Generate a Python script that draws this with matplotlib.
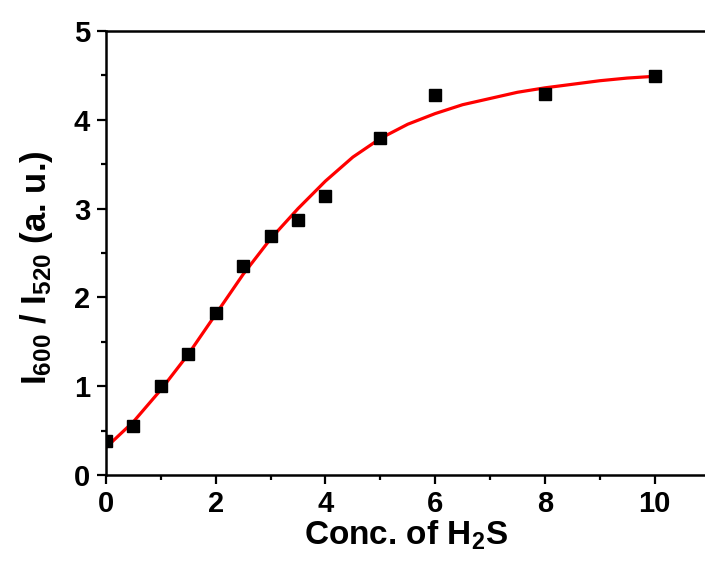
import matplotlib
matplotlib.use("Agg")
import matplotlib.pyplot as plt
from matplotlib.ticker import MultipleLocator

plt.rcParams['font.family'] = ['Liberation Sans', 'DejaVu Sans']
plt.rcParams['font.weight'] = 'bold'
plt.rcParams['mathtext.fontset'] = 'custom'
plt.rcParams['mathtext.rm'] = 'Liberation Sans:bold'
plt.rcParams['mathtext.bf'] = 'Liberation Sans:bold'
plt.rcParams['mathtext.default'] = 'bf'

# measured ratio vs. H2S concentration
conc = [0, 0.5, 1, 1.5, 2, 2.5, 3, 3.5, 4, 5, 6, 8, 10]
ratio = [0.38, 0.55, 1.00, 1.36, 1.82, 2.35, 2.69, 2.87, 3.14, 3.80, 4.28, 4.29, 4.49]

# fitted curve
fit_x = [0, 0.5, 1, 1.5, 2, 2.5, 3, 3.5, 4, 4.5, 5, 5.5, 6, 6.5, 7, 7.5, 8, 8.5, 9, 9.5, 10]
fit_y = [0.31, 0.60, 0.96, 1.36, 1.81, 2.26, 2.66, 3.00, 3.31, 3.58, 3.79, 3.95, 4.07, 4.17, 4.24,
         4.31, 4.36, 4.40, 4.44, 4.47, 4.49]

fig = plt.figure(figsize=(7.05, 5.66), dpi=100)
ax = fig.add_axes([0.1504, 0.1608, 0.8496, 0.7844])

ax.plot(fit_x, fit_y, color='red', lw=2.3, zorder=2)
ax.plot(conc, ratio, 's', color='black', markersize=8.3, zorder=3)

ax.set_xlim(0, 10.92)
ax.set_ylim(0, 5)
ax.xaxis.set_major_locator(MultipleLocator(2))
ax.xaxis.set_minor_locator(MultipleLocator(1))
ax.yaxis.set_major_locator(MultipleLocator(1))
ax.yaxis.set_minor_locator(MultipleLocator(0.5))

for side in ['left', 'bottom', 'top']:
    ax.spines[side].set_linewidth(1.8)
ax.spines['right'].set_visible(False)

ax.tick_params(which='major', direction='out', length=6.5, width=1.6, labelsize=21)
ax.tick_params(axis='y', which='major', pad=5)
ax.tick_params(axis='x', which='major', pad=4)
ax.tick_params(which='minor', direction='out', length=3.5, width=1.6)
ax.tick_params(top=False, right=False)

ax.set_xlabel(r'Conc. of H$_2$S', fontsize=24, fontweight='bold', labelpad=1)
ax.set_ylabel(r'I$_{600}$ / I$_{520}$ (a. u.)', fontsize=25, fontweight='bold')
ax.yaxis.set_label_coords(-0.085, 0.468)

fig.savefig('out.png', dpi=100)
